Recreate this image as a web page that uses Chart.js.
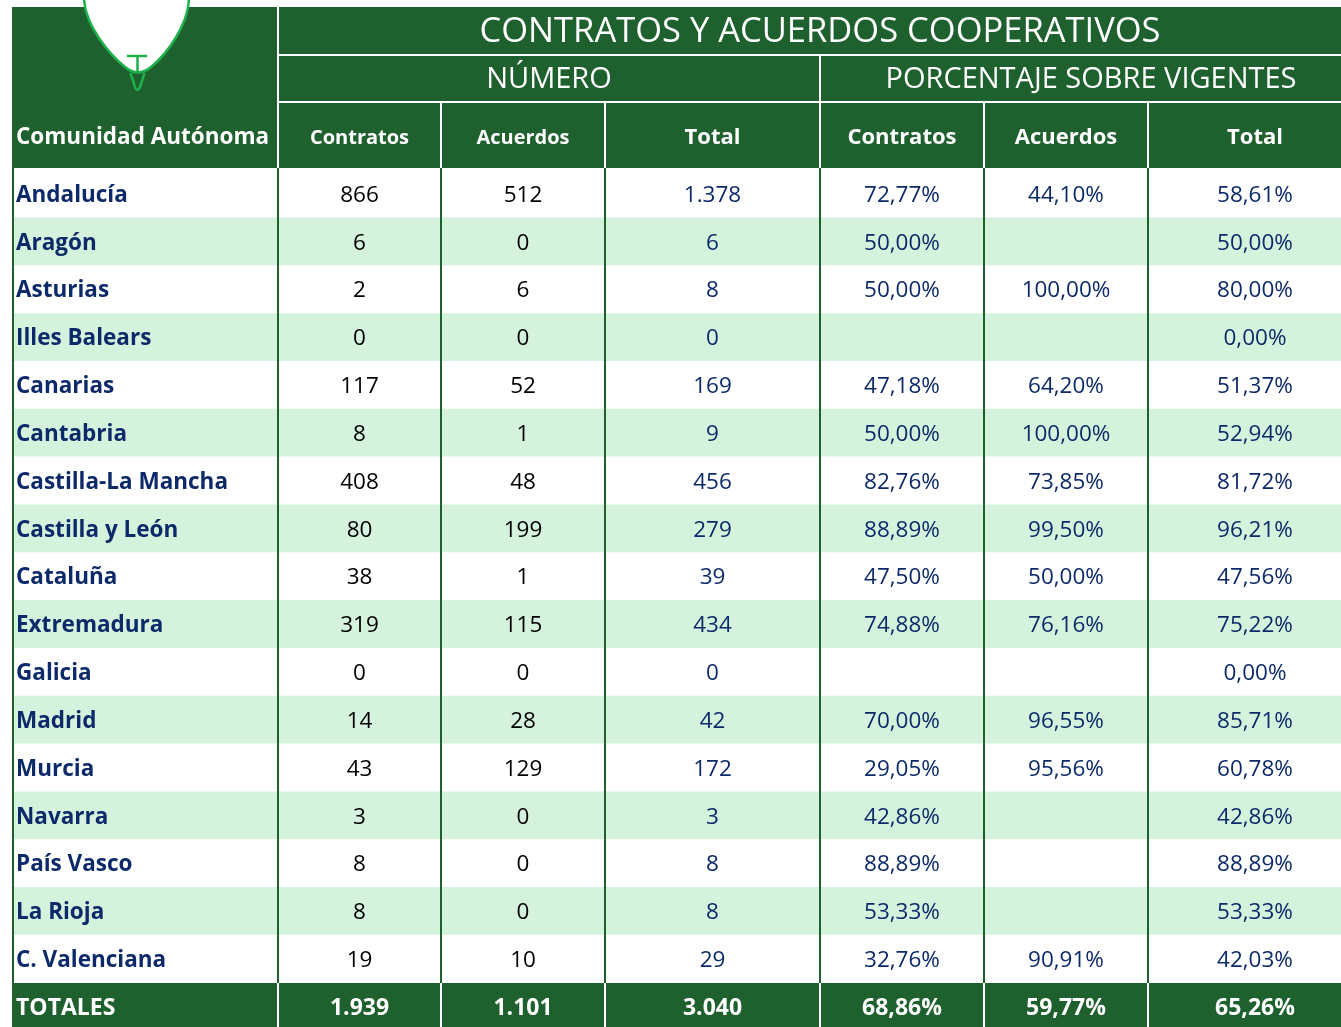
<!DOCTYPE html>
<html>
<head>
<meta charset="utf-8">
<script src="https://cdn.jsdelivr.net/npm/chart.js@4.4.1/dist/chart.umd.min.js"></script>
<style>
  html, body { margin: 0; padding: 0; background: #ffffff; }
  #wrap { width: 1341px; height: 1027px; position: relative; }
</style>
</head>
<body>
<div id="wrap"><canvas id="c"></canvas></div>
<script>
// ---------- DATA ----------
const titleText = 'CONTRATOS Y ACUERDOS COOPERATIVOS';
const groupHeaders = ['NÚMERO', 'PORCENTAJE SOBRE VIGENTES'];
const firstColHeader = 'Comunidad Autónoma';
const colHeaders = ['Contratos', 'Acuerdos', 'Total', 'Contratos', 'Acuerdos', 'Total'];

const regions = ['Andalucía', 'Aragón', 'Asturias', 'Illes Balears', 'Canarias', 'Cantabria',
  'Castilla-La Mancha', 'Castilla y León', 'Cataluña', 'Extremadura', 'Galicia', 'Madrid',
  'Murcia', 'Navarra', 'País Vasco', 'La Rioja', 'C. Valenciana'];
const contratos = [866, 6, 2, 0, 117, 8, 408, 80, 38, 319, 0, 14, 43, 3, 8, 8, 19];
const acuerdos  = [512, 0, 6, 0, 52, 1, 48, 199, 1, 115, 0, 28, 129, 0, 0, 0, 10];
const totales   = [1378, 6, 8, 0, 169, 9, 456, 279, 39, 434, 0, 42, 172, 3, 8, 8, 29];
const pctContratos = [72.77, 50.00, 50.00, null, 47.18, 50.00, 82.76, 88.89, 47.50, 74.88, null, 70.00, 29.05, 42.86, 88.89, 53.33, 32.76];
const pctAcuerdos  = [44.10, null, 100.00, null, 64.20, 100.00, 73.85, 99.50, 50.00, 76.16, null, 96.55, 95.56, null, null, null, 90.91];
const pctTotal     = [58.61, 50.00, 80.00, 0.00, 51.37, 52.94, 81.72, 96.21, 47.56, 75.22, 0.00, 85.71, 60.78, 42.86, 88.89, 53.33, 42.03];

const totalsLabel = 'TOTALES';
const totalsNumbers = [1939, 1101, 3040];
const totalsPct = [68.86, 59.77, 65.26];

// ---------- LAYOUT / STYLE ----------
const GREEN = '#1e602e';
const LIGHT = '#d5f3dc';
const NAVY = '#0c2a69';
const LOGO_GREEN = '#1db04b';
const FONT = '"Open Sans", "Noto Sans", sans-serif';
const colEdges = [0, 266, 429, 593, 808, 972, 1136, 1350]; // x-scale units
const X_MAX = 1329;
const headerFontSizes = [20, 20, 22, 22, 22, 22];

function fmtInt(n) {
  const s = String(Math.round(n));
  return s.replace(/\B(?=(\d{3})+(?!\d))/g, '.');
}
function fmtPct(v) {
  if (v === null || v === undefined) return '';
  return v.toFixed(2).replace('.', ',') + '%';
}

const tablePlugin = {
  id: 'tablePlugin',
  afterDatasetsDraw(chart) {
    const ctx = chart.ctx;
    const xs = chart.scales.x, ys = chart.scales.y;
    const area = chart.chartArea;
    const X = v => xs.getPixelForValue(v);
    const H = chart.height;
    const left = X(colEdges[0]);
    const right = X(colEdges[colEdges.length - 1]);
    const cx = k => (X(colEdges[k]) + X(colEdges[k + 1])) / 2;

    ctx.save();
    // ----- header block -----
    const hTop = 7, hBot = area.top - 2;
    ctx.fillStyle = GREEN;
    ctx.fillRect(left, hTop, right - left, hBot - hTop);
    ctx.fillStyle = '#ffffff';
    ctx.fillRect(X(colEdges[1]) - 1, hTop, 2, hBot - hTop);
    ctx.fillRect(X(colEdges[1]), 54, right - X(colEdges[1]), 2);
    ctx.fillRect(X(colEdges[1]), 101, right - X(colEdges[1]), 2);
    ctx.fillRect(X(colEdges[4]) - 1, 54, 2, hBot - 54);
    [2, 3, 5, 6].forEach(k => ctx.fillRect(X(colEdges[k]) - 1, 101, 2, hBot - 101));

    ctx.fillStyle = '#ffffff';
    ctx.textBaseline = 'middle';
    ctx.textAlign = 'center';
    ctx.font = '34.5px ' + FONT;
    ctx.fillText(titleText, (X(colEdges[1]) + right) / 2, 32);
    ctx.font = '29px ' + FONT;
    ctx.fillText(groupHeaders[0], (X(colEdges[1]) + X(colEdges[4])) / 2, 80);
    ctx.fillText(groupHeaders[1], (X(colEdges[4]) + right) / 2, 80);
    for (let k = 0; k < colHeaders.length; k++) {
      ctx.font = 'bold ' + headerFontSizes[k] + 'px ' + FONT;
      ctx.fillText(colHeaders[k], cx(k + 1), 138);
    }
    ctx.textAlign = 'left';
    ctx.font = 'bold 22.5px ' + FONT;
    ctx.fillText(firstColHeader, left + 4, 138);

    // ----- logo -----
    ctx.lineWidth = 2.5;
    ctx.strokeStyle = LOGO_GREEN;
    ctx.fillStyle = '#ffffff';
    ctx.beginPath();
    ctx.moveTo(84, -3);
    ctx.bezierCurveTo(84, 25, 110, 55, 125, 67);
    ctx.quadraticCurveTo(138, 78, 151, 67);
    ctx.bezierCurveTo(166, 55, 189, 25, 189, -3);
    ctx.closePath();
    ctx.fill();
    ctx.stroke();
    ctx.beginPath();
    ctx.moveTo(127, 56); ctx.lineTo(147, 56);
    ctx.moveTo(137.5, 56); ctx.lineTo(137.5, 73);
    ctx.stroke();
    ctx.beginPath();
    ctx.moveTo(130.5, 73);
    ctx.lineTo(135, 87);
    ctx.quadraticCurveTo(137.5, 93, 140, 87);
    ctx.lineTo(144.5, 73);
    ctx.stroke();

    // ----- body vertical lines -----
    ctx.fillStyle = GREEN;
    for (let k = 0; k < colEdges.length - 1; k++) {
      ctx.fillRect(X(colEdges[k]) - (k === 0 ? 0 : 1), area.top - 2, 2, area.bottom - area.top + 2);
    }

    // ----- body text -----
    ctx.textBaseline = 'middle';
    regions.forEach((name, i) => {
      const y = ys.getPixelForValue(i) + 1.5;
      ctx.textAlign = 'left';
      ctx.fillStyle = NAVY;
      ctx.font = 'bold 22.5px ' + FONT;
      ctx.fillText(name, left + 4, y);
      ctx.textAlign = 'center';
      ctx.font = '22.5px ' + FONT;
      ctx.fillStyle = '#000000';
      ctx.fillText(fmtInt(contratos[i]), cx(1), y);
      ctx.fillText(fmtInt(acuerdos[i]), cx(2), y);
      ctx.fillStyle = NAVY;
      ctx.fillText(fmtInt(totales[i]), cx(3), y);
      ctx.fillText(fmtPct(pctContratos[i]), cx(4), y);
      ctx.fillText(fmtPct(pctAcuerdos[i]), cx(5), y);
      ctx.fillText(fmtPct(pctTotal[i]), cx(6), y);
    });

    // ----- totals row -----
    const tTop = area.bottom;
    ctx.fillStyle = GREEN;
    ctx.fillRect(left, tTop, right - left, H - tTop);
    ctx.fillStyle = '#ffffff';
    for (let k = 1; k < colEdges.length - 1; k++) {
      ctx.fillRect(X(colEdges[k]) - 1, tTop, 2, H - tTop);
    }
    const ty = tTop + 25;
    ctx.font = 'bold 23px ' + FONT;
    ctx.textAlign = 'left';
    ctx.fillText(totalsLabel, left + 4, ty);
    ctx.textAlign = 'center';
    totalsNumbers.forEach((v, k) => ctx.fillText(fmtInt(v), cx(k + 1), ty));
    totalsPct.forEach((v, k) => ctx.fillText(fmtPct(v), cx(k + 4), ty));
    ctx.restore();
  }
};

new Chart(document.getElementById('c'), {
  type: 'bar',
  data: {
    labels: regions,
    datasets: [{
      label: 'filas',
      data: regions.map(() => [colEdges[0], X_MAX]),
      backgroundColor: regions.map((_, i) => i % 2 === 0 ? '#ffffff' : LIGHT),
      borderWidth: 0,
      barPercentage: 1.0,
      categoryPercentage: 1.0
    }]
  },
  options: {
    indexAxis: 'y',
    responsive: true,
    maintainAspectRatio: false,
    animation: false,
    layout: { padding: { left: 12, right: 0, top: 170, bottom: 44 } },
    scales: {
      x: { type: 'linear', min: 0, max: X_MAX, display: false },
      y: { type: 'category', display: false, offset: true, grid: { display: false } }
    },
    plugins: { legend: { display: false }, tooltip: { enabled: false }, title: { display: false } }
  },
  plugins: [tablePlugin]
});
</script>
</body>
</html>
